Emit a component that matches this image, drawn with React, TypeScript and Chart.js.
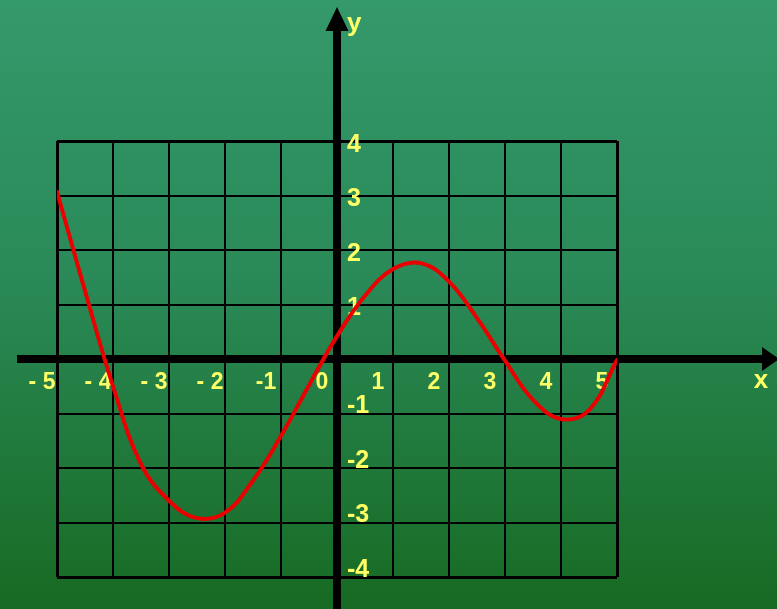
import React, { useEffect, useRef } from "react";
import { Chart, registerables } from "chart.js";

Chart.register(...registerables);

// Curve samples
const curveX = [-5, -4.5, -4, -3.5, -3, -2.5, -2, -1.5, -1, -0.5, 0, 0.5, 1, 1.5, 2, 2.5, 3, 3.5, 4, 4.5, 5];
const curveY = [3.07, 1.25, -0.5, -1.93, -2.6, -2.92, -2.82, -2.23, -1.41, -0.48, 0.42, 1.16, 1.65, 1.76, 1.42, 0.75, -0.03, -0.75, -1.1, -0.94, -0.02];

const xTickValues = [-5, -4, -3, -2, -1, 0, 1, 2, 3, 4, 5];
const xTickLabels = ["- 5", "- 4", "- 3", "- 2", "-1", "0", "1", "2", "3", "4", "5"];
const yTickValues = [4, 3, 2, 1, -1, -2, -3, -4];
const yTickLabels = ["4", "3", "2", "1", "-1", "-2", "-3", "-4"];
const xAxisName = "x";
const yAxisName = "y";

const FONT = "'Liberation Sans', Arial, sans-serif";
const LABEL_COLOR = "#ffff66";

const axesPlugin = {
  id: "axesPlugin",
  beforeDatasetsDraw(chart: any) {
    const { ctx, width, height } = chart;
    const xs = chart.scales.x;
    const ys = chart.scales.y;
    const x0 = xs.getPixelForValue(0);
    const y0 = ys.getPixelForValue(0);
    ctx.save();
    ctx.fillStyle = "#000";
    // horizontal axis with arrow
    ctx.fillRect(17, y0 - 4, width - 14 - 17, 8);
    ctx.beginPath();
    ctx.moveTo(width - 15, y0 - 12);
    ctx.lineTo(width + 2, y0);
    ctx.lineTo(width - 15, y0 + 12);
    ctx.closePath();
    ctx.fill();
    // vertical axis with arrow
    ctx.fillRect(x0 - 4, 28, 8, height - 28);
    ctx.beginPath();
    ctx.moveTo(x0 - 11.5, 31);
    ctx.lineTo(x0, 7);
    ctx.lineTo(x0 + 11.5, 31);
    ctx.closePath();
    ctx.fill();

    // tick labels
    ctx.fillStyle = LABEL_COLOR;
    ctx.textBaseline = "middle";
    ctx.textAlign = "center";
    ctx.font = `bold 23px ${FONT}`;
    xTickValues.forEach((v, i) => {
      ctx.fillText(xTickLabels[i], xs.getPixelForValue(v) - 15, y0 + 24);
    });
    ctx.textAlign = "left";
    ctx.font = `bold 25px ${FONT}`;
    yTickValues.forEach((v, i) => {
      ctx.fillText(yTickLabels[i], x0 + 10, ys.getPixelForValue(v) + (v > 0 ? 4 : -7));
    });

    // axis names
    ctx.font = `bold 26px ${FONT}`;
    ctx.textAlign = "center";
    ctx.fillText(xAxisName, width - 16, y0 + 22);
    ctx.textAlign = "left";
    ctx.fillText(yAxisName, x0 + 10, 24);
    ctx.restore();
  },
};

export default function App() {
  const canvasRef = useRef<HTMLCanvasElement | null>(null);

  useEffect(() => {
    document.body.style.margin = "0";
    const canvas = canvasRef.current;
    if (!canvas) return;
    const points = curveX.map((x, i) => ({ x, y: curveY[i] }));
    const gridWidth = (ctx: any) => {
      const v = ctx.tick ? ctx.tick.value : 0;
      return v === ctx.scale.min || v === ctx.scale.max ? 3 : 2;
    };
    const chart = new Chart(canvas, {
      type: "line",
      data: {
        datasets: [
          {
            data: points,
            borderColor: "#ea0000",
            borderWidth: 4,
            pointRadius: 0,
            fill: false,
            tension: 0.4,
            borderCapStyle: "round",
            borderJoinStyle: "round",
          },
        ],
      },
      options: {
        animation: false,
        responsive: false,
        devicePixelRatio: 1,
        layout: { padding: { left: 57, right: 160, top: 141, bottom: 32 } },
        plugins: { legend: { display: false }, tooltip: { enabled: false } },
        scales: {
          x: {
            type: "linear",
            min: -5,
            max: 5,
            position: { y: 0 } as any,
            ticks: { display: false, stepSize: 1 },
            grid: { color: "#000", lineWidth: gridWidth, drawTicks: false },
            border: { display: false },
          },
          y: {
            type: "linear",
            min: -4,
            max: 4,
            position: { x: 0 } as any,
            ticks: { display: false, stepSize: 1 },
            grid: { color: "#000", lineWidth: gridWidth, drawTicks: false },
            border: { display: false },
          },
        },
      },
      plugins: [axesPlugin],
    } as any);
    return () => chart.destroy();
  }, []);

  return (
    <div
      style={{
        width: 777,
        height: 609,
        background: "linear-gradient(180deg, #34996b 0%, #2a8a58 45%, #176a22 100%)",
      }}
    >
      <canvas ref={canvasRef} width={777} height={609} style={{ display: "block" }} />
    </div>
  );
}
